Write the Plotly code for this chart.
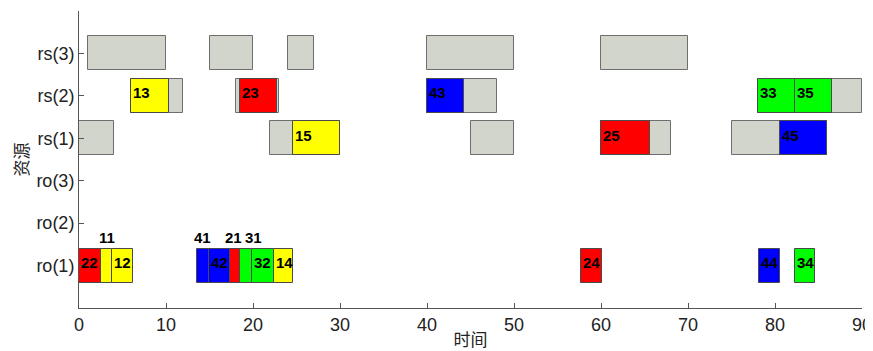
import plotly.graph_objects as go

# Resource rows (bottom to top)
resources = ["ro(1)", "ro(2)", "ro(3)", "rs(1)", "rs(2)", "rs(3)"]

# Gray occupancy blocks: resource, start, end
gray_res = ["rs(3)", "rs(3)", "rs(3)", "rs(3)", "rs(3)",
            "rs(2)", "rs(2)", "rs(2)", "rs(2)",
            "rs(1)", "rs(1)", "rs(1)", "rs(1)", "rs(1)"]
gray_start = [1, 15, 24, 40, 60,
              6, 18, 40, 78,
              0, 22, 45, 60, 75]
gray_end = [10, 20, 27, 50, 70,
            12, 23, 48, 90,
            4, 30, 50, 68, 86]

# Operations: label, resource, start, end
op_label = ["13", "23", "43", "33", "35",
            "15", "25", "45",
            "22", "11", "12", "41", "42", "21", "31", "32", "14", "24", "44", "34"]
op_res = ["rs(2)", "rs(2)", "rs(2)", "rs(2)", "rs(2)",
          "rs(1)", "rs(1)", "rs(1)",
          "ro(1)", "ro(1)", "ro(1)", "ro(1)", "ro(1)", "ro(1)", "ro(1)", "ro(1)", "ro(1)", "ro(1)", "ro(1)", "ro(1)"]
op_start = [6, 18.5, 40, 78, 82.3,
            24.6, 60, 80.6,
            0, 2.5, 3.75, 13.6, 14.9, 17.3, 18.5, 19.9, 22.4, 57.7, 78.2, 82.3]
op_end = [10.4, 22.8, 44.3, 82.3, 86.6,
          30, 65.6, 86,
          2.5, 3.75, 6.15, 14.9, 17.3, 18.5, 19.9, 22.4, 24.6, 60.1, 80.6, 84.6]

# Labels drawn above narrow bars: label -> x position (time)
above_label = ["11", "41", "21", "31"]
above_x = [3.2, 14.2, 17.8, 20.0]

# Y tick labels (empty at the axis ends)
ytick_vals = [0, 1, 2, 3, 4, 5, 6, 7]
ytick_text = [""] + resources + [""]

job_colors = {"1": "#FFFF00", "2": "#FF0000", "3": "#00FF00", "4": "#0000FF"}
row_of = {r: i + 1 for i, r in enumerate(resources)}

fig = go.Figure()

fig.add_trace(go.Bar(
    orientation="h",
    base=gray_start,
    x=[e - s for s, e in zip(gray_start, gray_end)],
    y=[row_of[r] for r in gray_res],
    width=0.8,
    marker=dict(color="#D1D5CB", line=dict(color="#6E6E6E", width=1)),
    hoverinfo="skip",
    showlegend=False,
))

fig.add_trace(go.Bar(
    orientation="h",
    base=op_start,
    x=[e - s for s, e in zip(op_start, op_end)],
    y=[row_of[r] for r in op_res],
    width=0.8,
    marker=dict(color=[job_colors[l[0]] for l in op_label],
                line=dict(color="#4A4A4A", width=1)),
    text=op_label,
    hoverinfo="text",
    textposition="none",
    showlegend=False,
))

label_font = dict(family="Liberation Sans, Arial", size=15, color="black", weight="bold")
annotations = []
for lab, r, s in zip(op_label, op_res, op_start):
    if lab in above_label:
        continue
    annotations.append(dict(
        x=s, y=row_of[r], xref="x", yref="y", text=lab, showarrow=False,
        xanchor="left", yanchor="middle", xshift=0, yshift=3,
        font=label_font,
    ))
for lab, xv in zip(above_label, above_x):
    r = op_res[op_label.index(lab)]
    annotations.append(dict(
        x=xv, y=row_of[r] + 0.65, xref="x", yref="y", text=lab, showarrow=False,
        xanchor="center", yanchor="middle",
        font=label_font,
    ))

fig.update_layout(
    width=865, height=343,
    margin=dict(l=71, r=11, t=3, b=43),
    paper_bgcolor="white", plot_bgcolor="white",
    barmode="overlay",
    bargap=0,
    annotations=annotations,
    font=dict(family="Liberation Sans, Arial", size=18, color="#222222"),
    xaxis=dict(
        range=[0, 90], tickvals=[0, 10, 20, 30, 40, 50, 60, 70, 80, 90],
        automargin=False,
        showgrid=False, zeroline=False, showline=True, linecolor="#555555", linewidth=1,
        ticks="inside", ticklen=5, tickcolor="#555555",
        tickfont=dict(size=18),
        title=dict(text="时间", font=dict(family="Noto Sans CJK SC", size=17), standoff=0),
    ),
    yaxis=dict(
        range=[0, 7], tickvals=ytick_vals, ticktext=ytick_text,
        automargin=False,
        showgrid=False, zeroline=False, showline=True, linecolor="#555555", linewidth=1,
        ticks="inside", ticklen=5, tickcolor="#555555",
        tickfont=dict(size=18),
        title=dict(text="资源", font=dict(family="Noto Sans CJK SC", size=17), standoff=19),
    ),
)

fig.write_html("out.html")
